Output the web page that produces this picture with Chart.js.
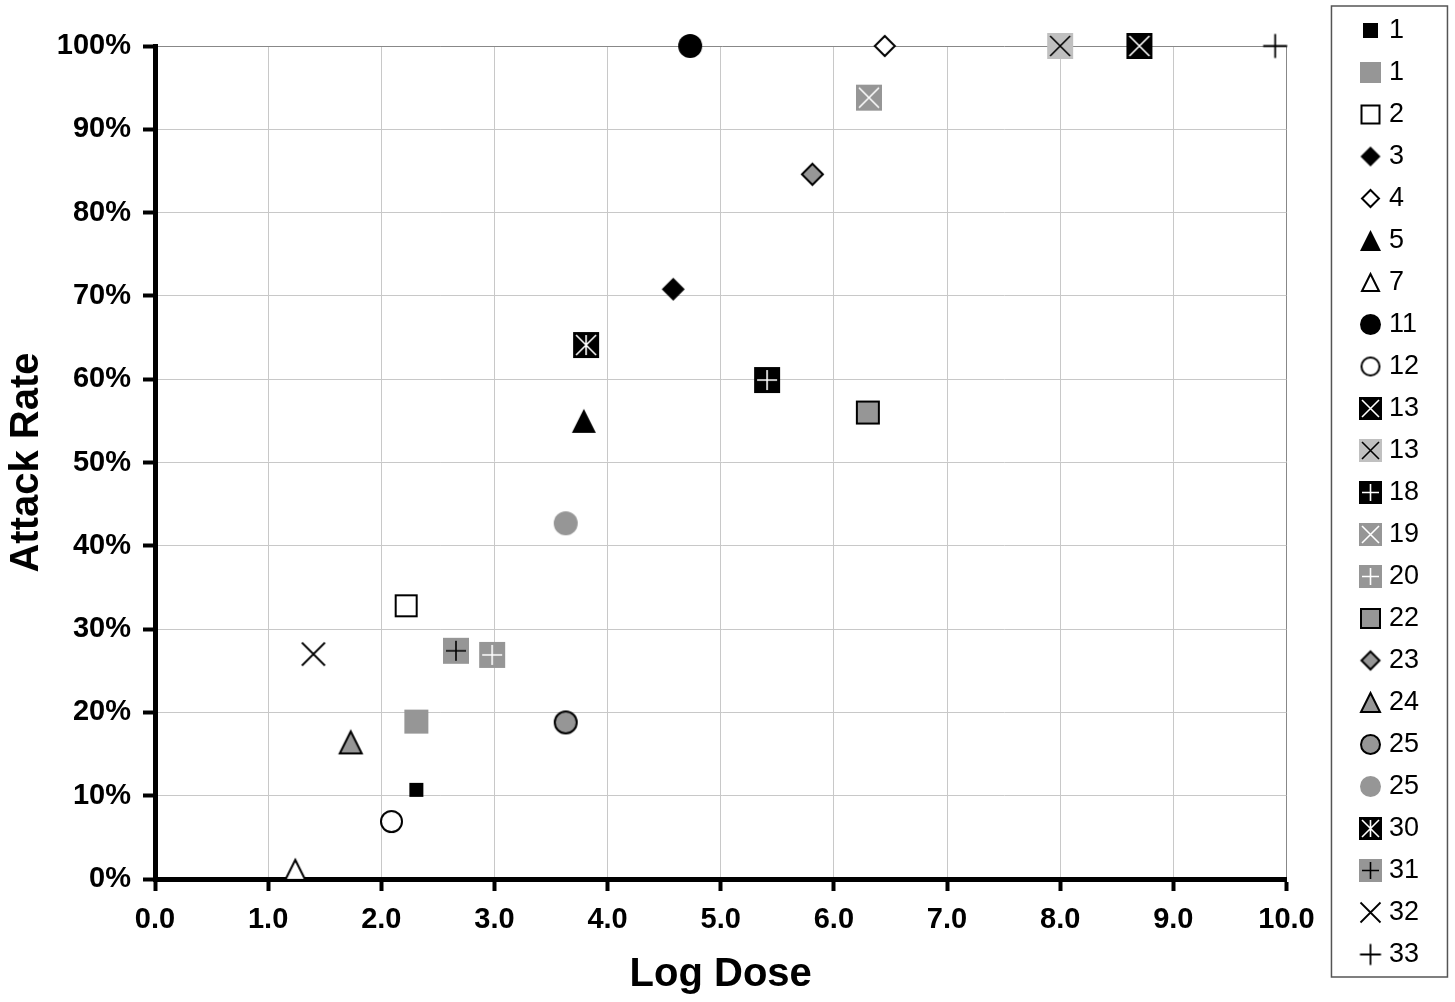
<!DOCTYPE html>
<html>
<head>
<meta charset="utf-8">
<title>Attack Rate vs Log Dose</title>
<script src="https://cdn.jsdelivr.net/npm/chart.js@4/dist/chart.umd.min.js"></script>
<style>
  html, body { margin: 0; padding: 0; background: #ffffff; }
  canvas { display: block; }
</style>
</head>
<body>
<canvas id="chart" width="1455" height="1002"></canvas>
<script>
// ---- data ----
const seriesLabels = ['1', '1', '2', '3', '4', '5', '7', '11', '12', '13', '13', '18', '19', '20', '22', '23', '24', '25', '25', '30', '31', '32', '33'];
const logDose    = [2.31, 2.31, 2.22, 4.58, 6.45, 3.79, 1.24, 4.73, 2.09, 8.70, 8.00, 5.41, 6.31, 2.98, 6.30, 5.81, 1.73, 3.63, 3.63, 3.81, 2.66, 1.40, 9.90];
const attackRate = [10.7, 18.9, 32.8, 70.8, 100, 55.0, 1.1, 100, 6.9, 100, 100, 59.9, 93.8, 26.9, 56.0, 84.6, 16.4, 18.8, 42.7, 64.1, 27.4, 27.0, 100];
const xTickLabels = ['0.0', '1.0', '2.0', '3.0', '4.0', '5.0', '6.0', '7.0', '8.0', '9.0', '10.0'];
const yTickLabels = ['0%', '10%', '20%', '30%', '40%', '50%', '60%', '70%', '80%', '90%', '100%'];

// ---- marker styles (one per series) ----
const GRAY = '#969696';
const LIGHT = '#c0c0c0';
const markerStyles = [
  { shape: 'square',   size: 14, fill: '#000' },
  { shape: 'square',   size: 24, fill: GRAY },
  { shape: 'square',   size: 23, fill: '#fff', stroke: '#000' },
  { shape: 'diamond',  size: 23, fill: '#000' },
  { shape: 'diamond',  size: 22, fill: '#fff', stroke: '#000' },
  { shape: 'triangle', size: 24, fill: '#000' },
  { shape: 'triangle', size: 22, fill: '#fff', stroke: '#000' },
  { shape: 'circle',   size: 24, fill: '#000' },
  { shape: 'circle',   size: 23, fill: '#fff', stroke: '#000' },
  { shape: 'square',   size: 26, fill: '#000', glyph: 'x',    glyphColor: '#fff' },
  { shape: 'square',   size: 26, fill: LIGHT,  glyph: 'x',    glyphColor: '#000' },
  { shape: 'square',   size: 26, fill: '#000', glyph: 'plus', glyphColor: '#fff' },
  { shape: 'square',   size: 26, fill: GRAY,   glyph: 'x',    glyphColor: '#fff' },
  { shape: 'square',   size: 26, fill: GRAY,   glyph: 'plus', glyphColor: '#fff' },
  { shape: 'square',   size: 24, fill: GRAY,   stroke: '#000' },
  { shape: 'diamond',  size: 23, fill: GRAY,   stroke: '#000' },
  { shape: 'triangle', size: 24, fill: GRAY,   stroke: '#000' },
  { shape: 'circle',   size: 24, fill: GRAY,   stroke: '#000' },
  { shape: 'circle',   size: 24, fill: GRAY },
  { shape: 'square',   size: 26, fill: '#000', glyph: 'star', glyphColor: '#fff' },
  { shape: 'square',   size: 26, fill: GRAY,   glyph: 'plus', glyphColor: '#000' },
  { shape: 'none',     size: 24, glyph: 'x',    glyphColor: '#000' },
  { shape: 'none',     size: 25, glyph: 'plus', glyphColor: '#000' }
];

const FONT = "'Liberation Sans', Arial, Helvetica, sans-serif";

// Paint one marker onto its own small canvas so it can be used as a pointStyle.
function makeMarker(spec, scale) {
  const s = Math.max(6, Math.round(spec.size * scale));
  const pad = 2;
  const c = document.createElement('canvas');
  c.width = c.height = s + pad * 2;
  const g = c.getContext('2d');
  g.translate(pad, pad);
  const h = s / 2;
  const inset = spec.stroke ? 1 : 0;
  g.lineJoin = 'miter';
  g.beginPath();
  if (spec.shape === 'square') {
    g.rect(inset, inset, s - 2 * inset, s - 2 * inset);
  } else if (spec.shape === 'diamond') {
    g.moveTo(h, inset); g.lineTo(s - inset, h); g.lineTo(h, s - inset); g.lineTo(inset, h); g.closePath();
  } else if (spec.shape === 'triangle') {
    g.moveTo(h, inset); g.lineTo(s - inset, s - inset); g.lineTo(inset, s - inset); g.closePath();
  } else if (spec.shape === 'circle') {
    g.arc(h, h, h - inset, 0, Math.PI * 2);
  }
  if (spec.shape !== 'none') {
    g.fillStyle = spec.fill;
    g.fill();
    if (spec.stroke) {
      g.strokeStyle = spec.stroke;
      g.lineWidth = 2;
      g.stroke();
    }
  }
  if (spec.glyph) {
    const i = spec.shape === 'none' ? 0.5 : 3;
    g.strokeStyle = spec.glyphColor;
    g.lineWidth = spec.shape === 'none' ? 1.8 : 1.6;
    g.beginPath();
    if (spec.glyph === 'x' || spec.glyph === 'star') {
      g.moveTo(i, i); g.lineTo(s - i, s - i);
      g.moveTo(s - i, i); g.lineTo(i, s - i);
    }
    if (spec.glyph === 'plus') {
      g.moveTo(h, i); g.lineTo(h, s - i);
      g.moveTo(i, h); g.lineTo(s - i, h);
    }
    if (spec.glyph === 'star') {
      g.moveTo(h, i); g.lineTo(h, s - i);
    }
    g.stroke();
  }
  return c;
}

const plotMarkers = markerStyles.map(m => makeMarker(m, 1));
const legendMarkers = markerStyles.map(m => makeMarker(m, m.size < 16 ? 1.05 : 0.88));

const datasets = seriesLabels.map((label, i) => ({
  label: label,
  data: [{ x: logDose[i], y: attackRate[i] }],
  pointStyle: plotMarkers[i],
  pointRadius: 12,
  pointHoverRadius: 12,
  backgroundColor: markerStyles[i].fill || '#000',
  borderColor: markerStyles[i].stroke || markerStyles[i].glyphColor || '#000',
  showLine: false,
  clip: false
}));

// Frame drawn around the legend column.
const legendFrame = {
  id: 'legendFrame',
  afterDraw(chart) {
    const lg = chart.legend;
    if (!lg) return;
    const ctx = chart.ctx;
    ctx.save();
    ctx.strokeStyle = '#555555';
    ctx.lineWidth = 1.5;
    ctx.strokeRect(lg.left - 19, 6, 116, 971);
    ctx.restore();
  }
};

const tickFont = { family: FONT, size: 29, weight: 'bold' };
const titleFont = { family: FONT, size: 40, weight: 'bold' };

new Chart(document.getElementById('chart'), {
  type: 'scatter',
  data: { datasets },
  plugins: [legendFrame],
  options: {
    responsive: false,
    animation: false,
    events: [],
    devicePixelRatio: 1,
    layout: { padding: { top: 2, bottom: 0, left: 0, right: 26 } },
    plugins: {
      tooltip: { enabled: false },
      legend: {
        position: 'right',
        align: 'start',
        labels: {
          usePointStyle: true,
          pointStyleWidth: 10,
          padding: 15,
          color: '#000',
          font: { family: FONT, size: 27 },
          generateLabels(chart) {
            const items = Chart.defaults.plugins.legend.labels.generateLabels(chart);
            items.forEach(it => { it.pointStyle = legendMarkers[it.datasetIndex]; });
            return items;
          }
        }
      }
    },
    scales: {
      x: {
        type: 'linear',
        min: 0,
        max: 10,
        afterFit(scale) { scale.height = 123; },
        ticks: {
          stepSize: 1,
          autoSkip: false,
          maxRotation: 0,
          color: '#000',
          font: tickFont,
          padding: 12,
          callback: (v, i) => xTickLabels[i]
        },
        grid: {
          color: ctx => (ctx.tick && ctx.tick.value === 10) ? '#888888' : '#c8c8c8',
          lineWidth: 1,
          drawTicks: true,
          tickLength: 12,
          tickWidth: 4,
          tickColor: '#000'
        },
        border: { display: true, color: '#000', width: 5 },
        title: { display: true, text: 'Log Dose', color: '#000', font: titleFont, padding: { top: 0, bottom: 3 } }
      },
      y: {
        type: 'linear',
        min: 0,
        max: 100,
        afterFit(scale) { scale.width = 155; scale.paddingTop = 46; },
        ticks: {
          stepSize: 10,
          color: '#000',
          font: tickFont,
          padding: 12,
          callback: (v, i) => yTickLabels[i]
        },
        grid: {
          color: ctx => (ctx.tick && ctx.tick.value === 100) ? '#888888' : '#c8c8c8',
          lineWidth: 1,
          drawTicks: true,
          tickLength: 12,
          tickWidth: 4,
          tickColor: '#000'
        },
        border: { display: true, color: '#000', width: 5 },
        title: { display: true, text: 'Attack Rate', color: '#000', font: titleFont, padding: { top: 3, bottom: 0 } }
      },
      gap: {
        type: 'linear',
        position: 'right',
        display: true,
        afterFit(scale) { scale.width = 64; },
        ticks: { display: false },
        grid: { display: false, drawTicks: false },
        border: { display: false }
      }
    }
  }
});
</script>
</body>
</html>
